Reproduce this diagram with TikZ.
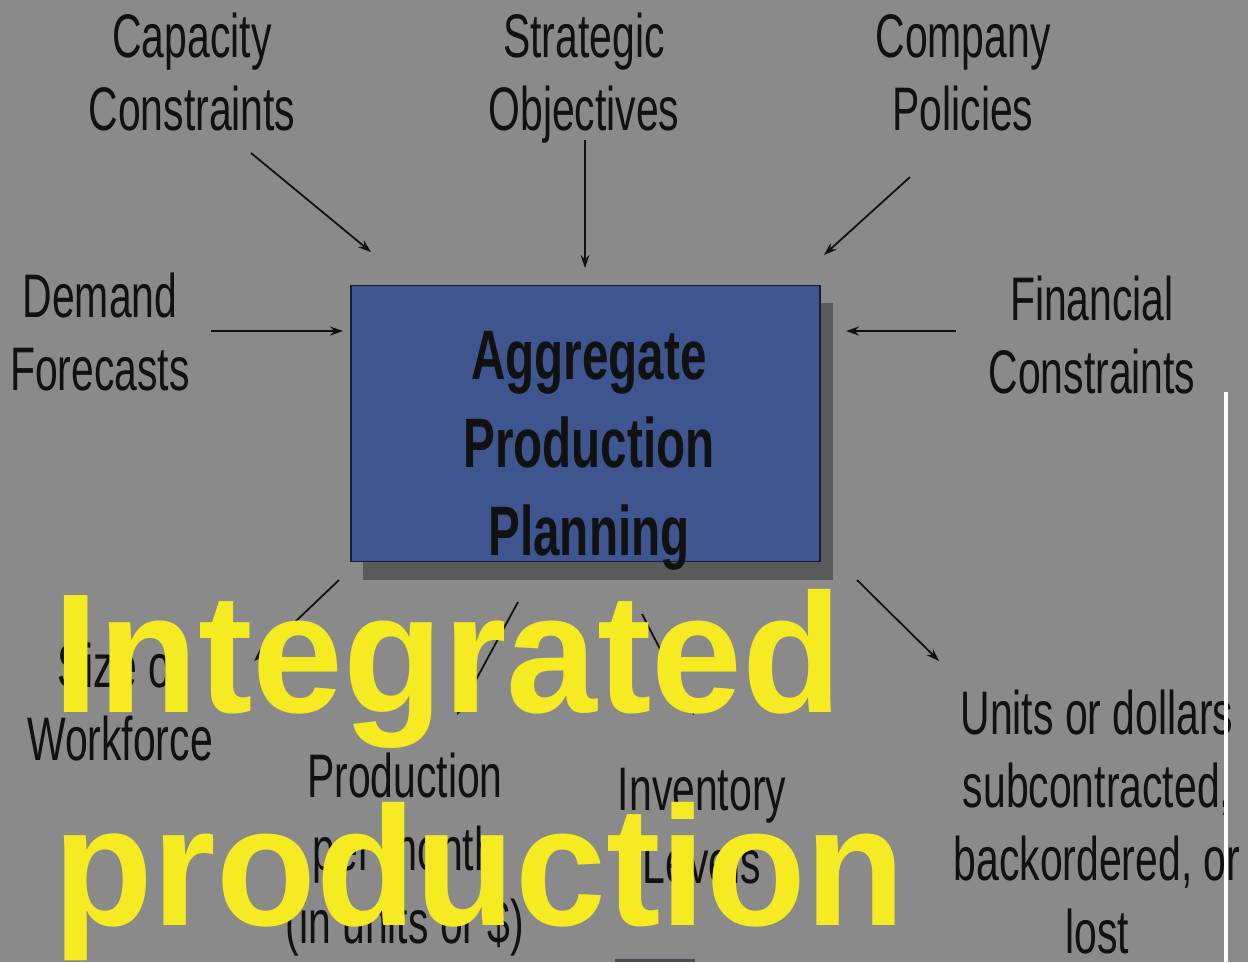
\documentclass[tikz,border=0pt]{standalone}
\usepackage{fontspec}
\setmainfont{Liberation Sans}
\newfontfamily\narrowfont[FakeStretch=0.665]{Liberation Sans}
\newfontfamily\boxfont[FakeStretch=0.68]{Liberation Sans}
\newfontfamily\bannerfont[FakeStretch=0.96]{Liberation Sans}
\usetikzlibrary{arrows.meta}
\definecolor{bggrey}{HTML}{8A8A8A}
\definecolor{apblue}{HTML}{3E5590}
\definecolor{apedge}{HTML}{141C3A}
\definecolor{shadowgrey}{HTML}{5A5A5A}
\definecolor{banner}{HTML}{F6EA22}
\definecolor{ink}{HTML}{111111}
\definecolor{stubgrey}{HTML}{4B4658}
\begin{document}
\begin{tikzpicture}[x=1pt,y=-1pt,>={Stealth[length=13pt,width=9pt]},line join=round,
  lbl/.style={text=ink,align=center,inner sep=0pt,anchor=base,
    font=\narrowfont\fontsize{61.5}{73}\selectfont},
  feed/.style={->,draw=ink,line width=1.8pt}]
\fill[bggrey] (0,0) rectangle (1248,962);
\useasboundingbox (0,0) rectangle (1248,962);
% central box and its shadow
\fill[shadowgrey] (363,303) rectangle (833,580);
\node[draw=apedge,fill=apblue,line width=1.5pt,minimum width=469pt,minimum height=276pt,inner sep=0pt] (app) at (585.5,423.5) {};
\node[align=center,inner sep=0pt,anchor=base,text=ink,font=\boxfont\bfseries\fontsize{70}{88}\selectfont] (apptext) at (589,555) {Aggregate\\Production\\Planning};
% inputs (anchored at the last line)
\node[lbl] (cap) at (192,130) {Capacity\\Constraints};
\node[lbl] (strat) at (584,130) {Strategic\\Objectives};
\node[lbl] (comp) at (963,130) {Company\\Policies};
\node[lbl] (dem) at (100,390) {Demand\\Forecasts};
\node[lbl] (fin) at (1092,393) {Financial\\Constraints};
% outputs
\node[lbl] (work) at (120,760) {Size of\\Workforce};
\node[lbl] (prod) at (405,943) {Production\\per month\\(in units or \$)};
\node[lbl] (inv) at (702,883) {Inventory\\Levels};
\node[lbl] (sub) at (1097,953) {Units or dollars\\subcontracted,\\backordered, or\\lost};
% arrow ends
\coordinate (cap-a) at (251,153);  \coordinate (cap-b) at (371,252);
\coordinate (strat-a) at (585,140); \coordinate (strat-b) at (585,268);
\coordinate (comp-a) at (910,177); \coordinate (comp-b) at (824,255);
\coordinate (dem-a) at (211,331);  \coordinate (dem-b) at (343,331);
\coordinate (fin-a) at (956,331);  \coordinate (fin-b) at (846,331);
\coordinate (work-a) at (339,580); \coordinate (work-b) at (254,661);
\coordinate (prod-a) at (518,602); \coordinate (prod-b) at (457,715);
\coordinate (inv-a) at (642,614);  \coordinate (inv-b) at (694,715);
\coordinate (sub-a) at (857,580);  \coordinate (sub-b) at (939,661);
\draw[feed] (cap-a) -- (cap-b);
\draw[feed] (strat-a) -- (strat-b);
\draw[feed] (comp-a) -- (comp-b);
\draw[feed] (dem-a) -- (dem-b);
\draw[feed] (fin-a) -- (fin-b);
\draw[feed] (work-a) -- (work-b);
\draw[feed] (prod-a) -- (prod-b);
\draw[feed] (inv-a) -- (inv-b);
\draw[feed] (sub-a) -- (sub-b);
% overlay
\node[align=left,inner sep=0pt,anchor=base west,text=banner,font=\bannerfont\bfseries\fontsize{170}{213}\selectfont] (title) at (53,925) {Integrated\\production};
\fill[white] (1224,392) rectangle (1228,962);
\fill[stubgrey] (615,959) rectangle (695,962);
\end{tikzpicture}
\end{document}
